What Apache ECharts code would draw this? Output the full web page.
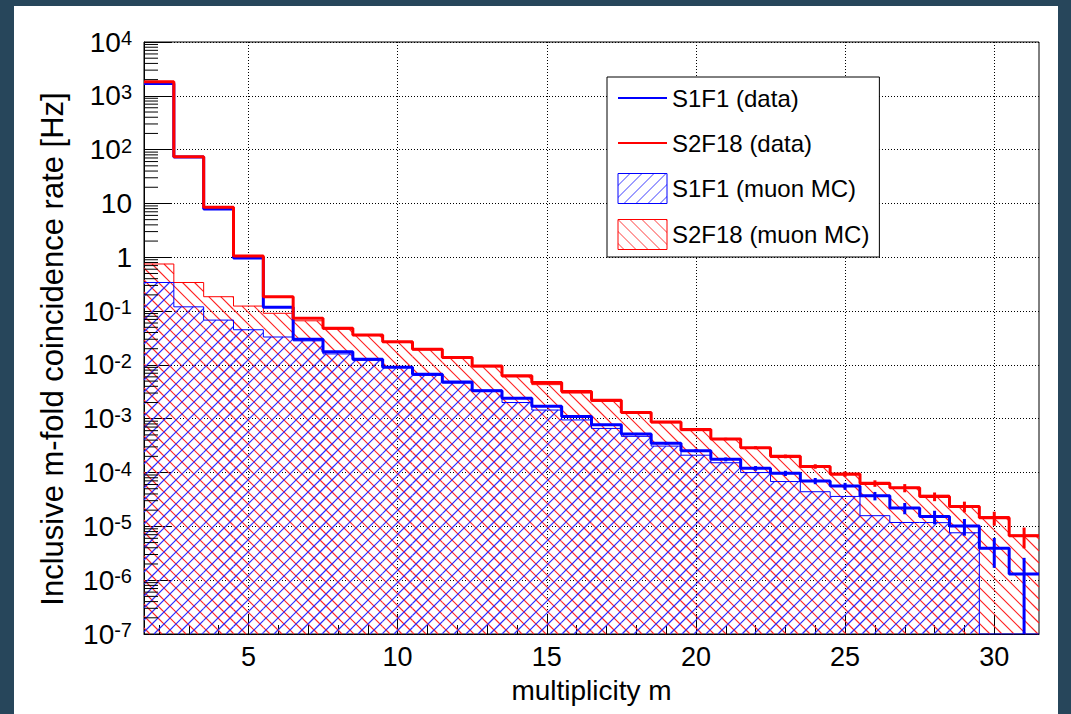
<!DOCTYPE html>
<html>
<head>
<meta charset="utf-8">
<title>Inclusive m-fold coincidence rate</title>
<script src="https://cdn.jsdelivr.net/npm/echarts@6.0.0/dist/echarts.min.js"></script>
<style>
  html, body { margin: 0; padding: 0; width: 1071px; height: 714px; background: #27465b; overflow: hidden; }
  #chart { position: absolute; left: 14px; top: 6px; width: 1044px; height: 708px; background: #ffffff; }
</style>
</head>
<body>
<div id="chart"></div>
<script>
// Multiplicity bins (bin centres)
const multiplicity = [2, 3, 4, 5, 6, 7, 8, 9, 10, 11, 12, 13, 14, 15, 16,
                      17, 18, 19, 20, 21, 22, 23, 24, 25, 26, 27, 28, 29, 30, 31];

// S1F1 measured rates [Hz] and their uncertainties
const s1f1Data = [1700, 73, 7.9, 0.97, 0.118, 0.030, 0.0176, 0.0127, 0.0090, 0.0067,
                  0.0048, 0.0033, 0.0024, 0.0017, 0.0011, 0.00077, 0.00052, 0.00035, 0.000255, 0.000176,
                  0.00012, 0.000097, 0.00007, 0.000056, 0.000037, 0.000022, 0.0000152, 0.0000102, 0.0000039, 0.0000013];
const s1f1DataErr = [0.045, 0.0094, 0.0031, 0.0011, 0.00038, 0.00019, 0.000146, 0.000124, 0.000104, 0.00009,
                     0.000076, 0.000063, 0.000054, 0.000045, 0.000037, 0.00003, 0.000025, 0.000021, 0.0000176, 0.0000146,
                     0.0000121, 0.0000108, 0.0000092, 0.0000083, 0.0000066, 0.0000052, 0.0000043, 0.0000035, 0.0000022, 0.0000013];

// S2F18 measured rates [Hz] and their uncertainties
const s2f18Data = [1830, 74, 8.5, 1.06, 0.185, 0.074, 0.048, 0.036, 0.027, 0.0195,
                   0.0138, 0.0095, 0.0063, 0.0047, 0.0032, 0.0022, 0.0013, 0.00087, 0.00063, 0.00042,
                   0.00029, 0.0002, 0.00013, 0.000094, 0.000063, 0.000052, 0.000036, 0.0000235, 0.0000145, 0.0000067];
const s2f18DataErr = [0.048, 0.0095, 0.0032, 0.00115, 0.00047, 0.0003, 0.00024, 0.00021, 0.00018, 0.000154,
                      0.00013, 0.000107, 0.000087, 0.000075, 0.000063, 0.000053, 0.00004, 0.000032, 0.000028, 0.0000225,
                      0.0000187, 0.0000156, 0.0000125, 0.0000107, 0.0000087, 0.000009, 0.0000066, 0.0000053, 0.0000042, 0.0000028];

// Muon Monte Carlo expectations [Hz]; null = empty bin
const s1f1MC = [0.34, 0.12, 0.068, 0.045, 0.033, 0.028, 0.016, 0.0122, 0.0093, 0.0064,
                0.0046, 0.0034, 0.0020, 0.00145, 0.00095, 0.00066, 0.00047, 0.00031, 0.00021, 0.000152,
                0.0001, 0.000068, 0.000044, 0.000036, 0.0000158, 0.0000118, 0.0000117, 0.0000076, null, null];
const s2f18MC = [0.75, 0.34, 0.185, 0.124, 0.091, 0.066, 0.046, 0.035, 0.026, 0.019,
                 0.0135, 0.0092, 0.006, 0.0043, 0.003, 0.0021, 0.00128, 0.00084, 0.0006, 0.00041,
                 0.00028, 0.00019, 0.000125, 0.00009, 0.00006, 0.000053, 0.000038, 0.000024, 0.0000152, 0.0000069];

// Labelled x ticks
const xTickLabels = [5, 10, 15, 20, 25, 30];

// Axis ranges
const X_MIN = 1.5, X_MAX = 31.5;
const Y_MIN = 1e-7, Y_MAX = 1e4;

const FONT = "'Liberation Sans', Arial, Helvetica, sans-serif";
const BLUE = '#0000ff';
const RED = '#ff0000';
const HATCH_STEP = 12; // horizontal pitch of hatch lines, px

// Legend swatch tile drawn pixel by pixel: dir > 0 rising "/", dir < 0 falling "\"
function hatchTile(color, dir) {
  const s = HATCH_STEP;
  const c = document.createElement('canvas');
  c.width = s; c.height = s;
  const g = c.getContext('2d');
  g.fillStyle = color;
  for (let i = 0; i < s; i++) {
    g.fillRect(i, dir > 0 ? s - 1 - i : i, 1, 1);
  }
  return { image: c, repeat: 'repeat', imageWidth: s, imageHeight: s };
}

// Histogram outline: each bin becomes a flat segment from its low to high edge
function stepPoints(values) {
  const pts = [];
  multiplicity.forEach(function (m, i) {
    const v = values[i] == null ? Y_MIN : values[i];
    pts.push([m - 0.5, v], [m + 0.5, v]);
  });
  return pts;
}

function binPoints(values) {
  return multiplicity.map(function (m, i) { return [m, values[i] == null ? Y_MIN : values[i]]; });
}

// Hatched fill of one bin, from the axis floor up to the bin value.
// Lines sit on a fixed pixel lattice so they run on seamlessly across bins.
function hatchRenderer(color, dir, width) {
  return function (params, api) {
    const m = api.value(0), v = api.value(1);
    if (!(v > Y_MIN)) return null;
    const a = api.coord([m - 0.5, v]);
    const b = api.coord([m + 0.5, Y_MIN]);
    const x0 = a[0], x1 = b[0], y0 = a[1], y1 = b[1];
    const lines = [];
    const S = HATCH_STEP;
    const style = { stroke: color, lineWidth: width };
    if (dir > 0) {
      for (let c = Math.ceil((x0 + y0) / S) * S; c <= x1 + y1; c += S) {
        const xs = Math.max(x0, c - y1), xe = Math.min(x1, c - y0);
        if (xe > xs) lines.push({ type: 'line', shape: { x1: xs, y1: c - xs, x2: xe, y2: c - xe }, style: style });
      }
    } else {
      for (let c = Math.ceil((x0 - y1) / S) * S; c <= x1 - y0; c += S) {
        const xs = Math.max(x0, c + y0), xe = Math.min(x1, c + y1);
        if (xe > xs) lines.push({ type: 'line', shape: { x1: xs, y1: xs - c, x2: xe, y2: xe - c }, style: style });
      }
    }
    return { type: 'group', children: lines };
  };
}

function errorPoints(values, errs) {
  return multiplicity.map(function (m, i) { return [m, values[i], errs[i]]; });
}

function errorBarRenderer(color) {
  return function (params, api) {
    const m = api.value(0), v = api.value(1), s = api.value(2);
    const top = api.coord([m, v + s]);
    const bot = api.coord([m, Math.max(v - s, Y_MIN)]);
    return {
      type: 'line',
      shape: { x1: top[0], y1: top[1], x2: bot[0], y2: bot[1] },
      style: { stroke: color, lineWidth: 3 }
    };
  };
}

// Log minor ticks (2..9 within each decade) along the left axis
const yMinorTicks = [];
for (let k = -7; k < 4; k++) {
  for (let d = 2; d <= 9; d++) yMinorTicks.push([X_MIN, d * Math.pow(10, k)]);
}

const chart = echarts.init(document.getElementById('chart'), null, { renderer: 'svg' });

const option = {
  animation: false,
  textStyle: { fontFamily: FONT, color: '#000' },
  grid: {
    left: 130, top: 36, right: 19, bottom: 80,
    containLabel: false, outerBoundsMode: 'none',
    show: true, borderColor: '#000', borderWidth: 1, backgroundColor: 'transparent'
  },
  legend: {
    orient: 'vertical',
    left: 593, top: 71,
    itemWidth: 49, itemHeight: 30, itemGap: 15,
    padding: [6, 10, 7, 10],
    backgroundColor: '#fff', borderColor: '#000', borderWidth: 1,
    selectedMode: false,
    textStyle: { fontSize: 24, lineHeight: 30, color: '#000', fontFamily: FONT },
    data: [
      { name: 'S1F1 (data)', itemStyle: { color: 'rgba(0,0,0,0)', borderColor: 'rgba(0,0,0,0)', borderWidth: 0 } },
      { name: 'S2F18 (data)', itemStyle: { color: 'rgba(0,0,0,0)', borderColor: 'rgba(0,0,0,0)', borderWidth: 0 } },
      { name: 'S1F1 (muon MC)', icon: 'rect', itemStyle: { color: hatchTile('#3c3cff', 1), borderColor: BLUE, borderWidth: 1 } },
      { name: 'S2F18 (muon MC)', icon: 'rect', itemStyle: { color: hatchTile('#ff3c3c', -1), borderColor: RED, borderWidth: 1 } }
    ]
  },
  xAxis: {
    type: 'value',
    min: X_MIN, max: X_MAX, splitNumber: 6,
    name: 'multiplicity m', nameLocation: 'middle', nameGap: 42,
    nameTextStyle: { fontSize: 28, color: '#000', fontFamily: FONT },
    axisLine: { show: true, onZero: false, lineStyle: { color: '#000', width: 1 } },
    axisTick: { show: true, inside: true, length: 20, customValues: xTickLabels, lineStyle: { color: '#000' } },
    minorTick: { show: true, splitNumber: 5, length: 9, lineStyle: { color: '#000' } },
    axisLabel: { customValues: xTickLabels, fontSize: 27, color: '#000', fontFamily: FONT, margin: 9 },
    splitLine: { show: true, lineStyle: { color: '#000', type: [1, 2], width: 1 } }
  },
  yAxis: {
    type: 'log', logBase: 10,
    min: Y_MIN, max: Y_MAX, interval: 1,
    name: 'Inclusive m-fold coincidence rate [Hz]', nameLocation: 'middle', nameGap: 76,
    nameTextStyle: { fontSize: 31, color: '#000', fontFamily: FONT, padding: [0, 22, 0, 0] },
    axisLine: { show: true, lineStyle: { color: '#000', width: 1 } },
    axisTick: { show: true, inside: true, length: 28, lineStyle: { color: '#000' } },
    axisLabel: {
      fontSize: 28, color: '#000', fontFamily: FONT, margin: 12,
      formatter: function (v) {
        const e = Math.round(Math.log10(v));
        if (e === 0) return '1';
        if (e === 1) return '10';
        return '{b|10}{e|' + e + '}';
      },
      rich: {
        b: { fontSize: 28, lineHeight: 28, padding: [6, 0, 0, 0], verticalAlign: 'bottom', fontFamily: FONT, color: '#000' },
        e: { fontSize: 20, lineHeight: 20, verticalAlign: 'top', fontFamily: FONT, color: '#000' }
      }
    },
    splitLine: { show: true, lineStyle: { color: '#000', type: [1, 2], width: 1 } }
  },
  series: [
    {
      name: 'S2F18 (muon MC) hatch', type: 'custom', silent: true, z: 1,
      data: binPoints(s2f18MC), encode: { x: 0, y: 1 },
      renderItem: hatchRenderer('#ff2020', -1, 1.1)
    },
    {
      name: 'S1F1 (muon MC) hatch', type: 'custom', silent: true, z: 1,
      data: binPoints(s1f1MC), encode: { x: 0, y: 1 },
      renderItem: hatchRenderer('#2a2aff', 1, 1.2)
    },
    {
      name: 'S2F18 (muon MC)', type: 'line', data: stepPoints(s2f18MC),
      symbol: 'none', silent: true, z: 2,
      lineStyle: { color: RED, width: 1 }, itemStyle: { color: RED }
    },
    {
      name: 'S1F1 (muon MC)', type: 'line', data: stepPoints(s1f1MC),
      symbol: 'none', silent: true, z: 2,
      lineStyle: { color: BLUE, width: 1 }, itemStyle: { color: BLUE }
    },
    {
      name: 'S1F1 (data)', type: 'line', data: stepPoints(s1f1Data),
      symbol: 'none', silent: true, z: 3,
      lineStyle: { color: BLUE, width: 3 }, itemStyle: { color: BLUE }
    },
    {
      name: 'S2F18 (data)', type: 'line', data: stepPoints(s2f18Data),
      symbol: 'none', silent: true, z: 4,
      lineStyle: { color: RED, width: 3 }, itemStyle: { color: RED }
    },
    {
      name: 'S1F1 (data) error', type: 'custom', silent: true, z: 3,
      data: errorPoints(s1f1Data, s1f1DataErr), encode: { x: 0, y: 1 },
      renderItem: errorBarRenderer(BLUE)
    },
    {
      name: 'S2F18 (data) error', type: 'custom', silent: true, z: 4,
      data: errorPoints(s2f18Data, s2f18DataErr), encode: { x: 0, y: 1 },
      renderItem: errorBarRenderer(RED)
    },
    {
      name: 'y minor ticks', type: 'custom', silent: true, z: 5,
      data: yMinorTicks, encode: { x: 0, y: 1 },
      renderItem: function (params, api) {
        const p = api.coord([api.value(0), api.value(1)]);
        return {
          type: 'line',
          shape: { x1: p[0], y1: p[1], x2: p[0] + 14, y2: p[1] },
          style: { stroke: '#000', lineWidth: 1 }
        };
      }
    }
  ]
};

chart.setOption(option);
</script>
</body>
</html>
